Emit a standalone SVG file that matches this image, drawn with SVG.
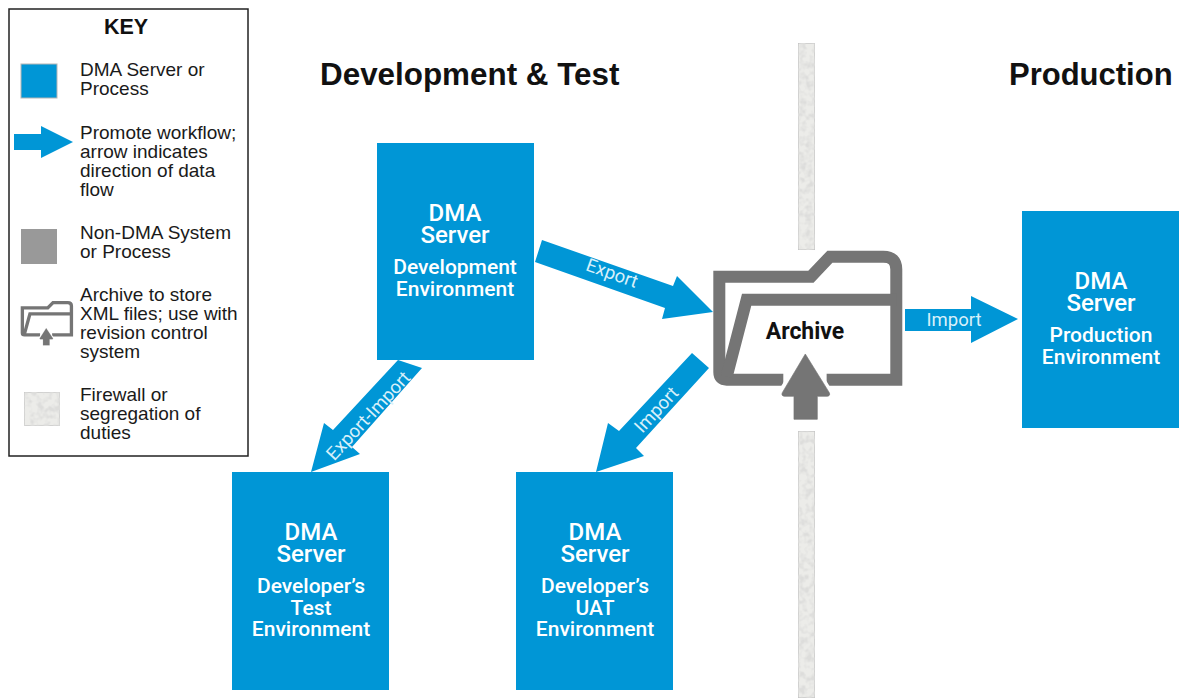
<svg xmlns="http://www.w3.org/2000/svg" xmlns:xlink="http://www.w3.org/1999/xlink" width="1185" height="698" viewBox="0 0 1185 698">
<style>
.bx{fill:#0096d6}
.arr{fill:#0096d6}
.t{font-family:"Roboto","Liberation Sans",sans-serif;fill:#fff;text-anchor:middle;font-weight:500}
.h{font-size:24px}
.s{font-size:21px}
.al{font-family:"Roboto","Liberation Sans",sans-serif;fill:#d8f0fa;font-size:18.5px;text-anchor:middle}
.k{font-family:"Liberation Sans",Arial,sans-serif;font-size:19px;fill:#1a1a1a}
.title{font-family:"Liberation Sans",Arial,sans-serif;font-size:31px;font-weight:700;fill:#111}
.fw{fill:#ecece9;stroke:#c0c0c0;stroke-width:1.2}
.fs{fill:none;stroke:#757575;stroke-width:36;stroke-linejoin:miter}
</style>
<defs>
<filter id="sp" x="0" y="0" width="100%" height="100%"><feTurbulence type="fractalNoise" baseFrequency="0.16" numOctaves="2" seed="4"/><feColorMatrix values="0 0 0 0 0.72 0 0 0 0 0.72 0 0 0 0 0.71 3 0 0 0 -1.2"/><feComposite in2="SourceGraphic" operator="in"/><feMerge><feMergeNode in="SourceGraphic"/><feMergeNode/></feMerge></filter>
<g id="folder">
<path class="fs" d="M790,449 L620,449 Q598,449 598,427 L598,140 L873,140 L930,80 L1090,80 Q1129,80 1129,118 L1129,449 L920,449"/>
<path class="fs" d="M1129,209 L680,209 L620,440"/>
<path d="M855,365 L780,490 L822,505 L822,568 L892,568 L892,505 L933,490 Z" fill="#fff" stroke="#fff" stroke-width="16" stroke-linejoin="round"/>
<path d="M856,372 L787,488 Q783,497 793,499 L822,499 L822,568 L892,568 L892,499 L922,499 Q932,497 928,488 Z" fill="#757575" stroke="#757575" stroke-width="2" stroke-linejoin="round"/>
</g>
</defs>

<g id="key">
<rect x="9" y="9" width="239" height="447" fill="#fff" stroke="#222" stroke-width="1.5"/>
<text x="126" y="34" font-family="Liberation Sans, Arial, sans-serif" font-size="21.5" font-weight="700" text-anchor="middle" fill="#111">KEY</text>
<rect x="21" y="64" width="36" height="34" fill="#0096d6" stroke="#b5b5b5"/>
<polygon class="arr" points="14,134 41,134 41,126 73,142 41,158 41,150 14,150"/>
<rect x="21" y="229" width="36" height="35" fill="#999"/>
<use xlink:href="#folder" href="#folder" transform="translate(20.7,301) scale(0.0924,0.0876) translate(-580,-62)" />
<rect class="fw" x="24" y="392" width="36" height="34" filter="url(#sp)"/>
<text class="k" x="80" y="76">DMA Server or</text>
<text class="k" x="80" y="95">Process</text>
<text class="k" x="80" y="139">Promote workflow;</text>
<text class="k" x="80" y="158">arrow indicates</text>
<text class="k" x="80" y="177">direction of data</text>
<text class="k" x="80" y="196">flow</text>
<text class="k" x="80" y="239">Non-DMA System</text>
<text class="k" x="80" y="258">or Process</text>
<text class="k" x="80" y="301">Archive to store</text>
<text class="k" x="80" y="320">XML files; use with</text>
<text class="k" x="80" y="339">revision control</text>
<text class="k" x="80" y="358">system</text>
<text class="k" x="80" y="401">Firewall or</text>
<text class="k" x="80" y="420">segregation of</text>
<text class="k" x="80" y="439">duties</text>
</g>

<text class="title" x="320" y="85" style="font-size:31.4px">Development &amp; Test</text>
<text class="title" x="1009" y="85">Production</text>

<g id="firewall">
<rect class="fw" x="798" y="43" width="17" height="207" filter="url(#sp)"/>
<rect class="fw" x="798" y="431" width="17" height="267" filter="url(#sp)"/>
</g>

<g id="node-dev">
<rect class="bx" x="377" y="143" width="157" height="217"/>
<text class="t h" x="455" y="221">DMA</text><text class="t h" x="455" y="243">Server</text>
<text class="t s" x="455" y="274">Development</text><text class="t s" x="455" y="296">Environment</text>
</g>
<g id="node-test">
<rect class="bx" x="232" y="472" width="157" height="218"/>
<text class="t h" x="311" y="540">DMA</text><text class="t h" x="311" y="562">Server</text>
<text class="t s" x="311" y="593">Developer’s</text><text class="t s" x="311" y="615">Test</text><text class="t s" x="311" y="636">Environment</text>
</g>
<g id="node-uat">
<rect class="bx" x="516" y="472" width="157" height="218"/>
<text class="t h" x="595" y="540">DMA</text><text class="t h" x="595" y="562">Server</text>
<text class="t s" x="595" y="593">Developer’s</text><text class="t s" x="595" y="615">UAT</text><text class="t s" x="595" y="636">Environment</text>
</g>
<g id="node-prod">
<rect class="bx" x="1022" y="211" width="157" height="217"/>
<text class="t h" x="1101" y="289">DMA</text><text class="t h" x="1101" y="311">Server</text>
<text class="t s" x="1101" y="342">Production</text><text class="t s" x="1101" y="364">Environment</text>
</g>

<g id="node-archive">
<use xlink:href="#folder" href="#folder" transform="translate(520,230) scale(0.3333)"/>
<text x="805" y="339" font-family="Roboto, Liberation Sans, sans-serif" font-size="23" font-weight="700" fill="#111" text-anchor="middle">Archive</text>
</g>

<g id="connectors">
<polygon class="arr" points="542,240 673,286 677,276 713,312 662,319 665,308 535,262"/>
<text class="al" transform="translate(610,279) rotate(19.5)">Export</text>
<polygon class="arr" points="905,309 971,309 971,296 1018,319 971,343 971,331 905,331"/>
<text class="al" x="954" y="326">Import</text>
<polygon class="arr" points="692,353 709,368 636,448 644,456 596,472 608,423 619,431"/>
<text class="al" transform="translate(661,414) rotate(-47)">Import</text>
<polygon class="arr" points="398,360 422,368 352,447 360,454 311,472 324,423 333,430"/>
<text class="al" transform="translate(373,420) rotate(-47)">Export-Import</text>
</g>
</svg>
